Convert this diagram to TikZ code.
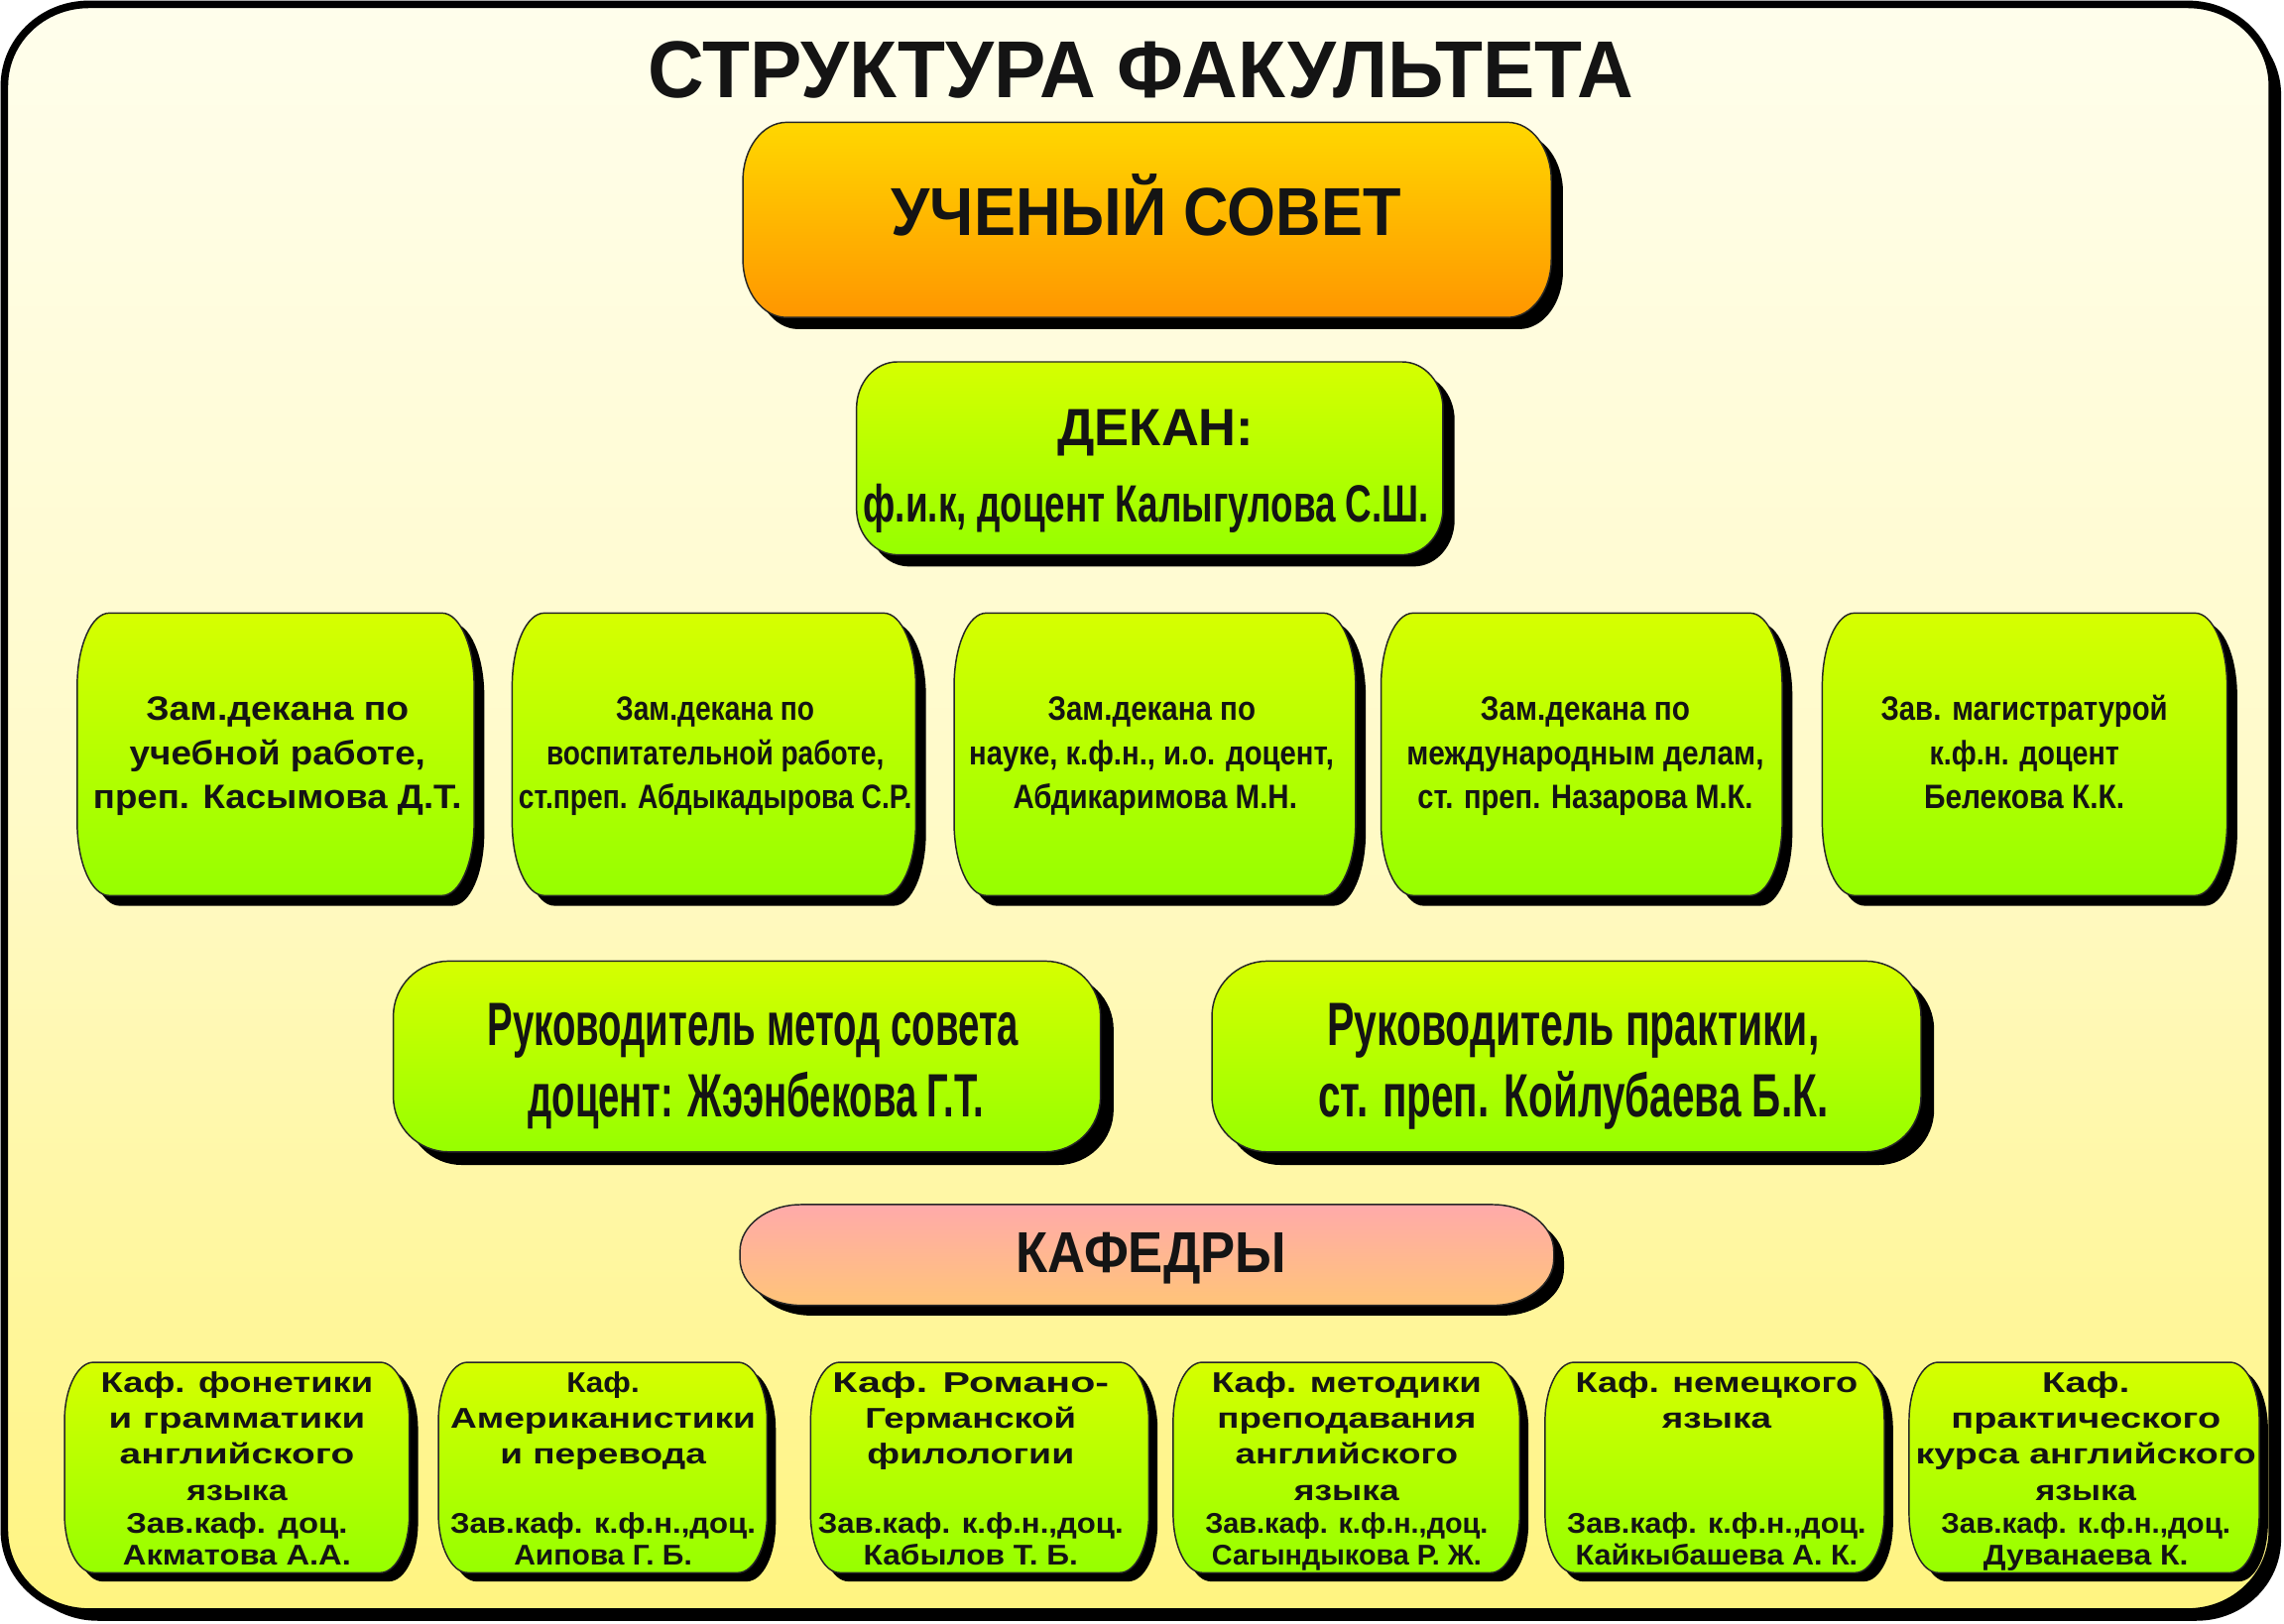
\documentclass[tikz,border=0pt]{standalone}
\usepackage{fontspec}
\setmainfont{Liberation Sans}
\usepackage{graphicx}
\newdimen\unitpx \unitpx=0.5pt
\definecolor{bgtop}{RGB}{255,254,236}
\definecolor{bgmid}{RGB}{255,250,200}
\definecolor{bgbot}{RGB}{255,244,128}
\definecolor{grtop}{RGB}{214,255,0}
\definecolor{grbot}{RGB}{150,255,0}
\definecolor{ortop}{RGB}{255,215,0}
\definecolor{orbot}{RGB}{255,150,0}
\definecolor{pktop}{RGB}{255,170,170}
\definecolor{pkbot}{RGB}{255,196,120}
\definecolor{ink}{RGB}{20,20,20}
\newcommand\boxshape[8]{%
 \fill[black, shift={(#8,#8)}] ({#2+#6},#3) -- ({#4-#6},#3) .. controls ({#4-0.448*#6},#3) and (#4,{#3+0.448*#7}) .. (#4,{#3+#7}) -- (#4,{#5-#7}) .. controls (#4,{#5-0.448*#7}) and ({#4-0.448*#6},#5) .. ({#4-#6},#5) -- ({#2+#6},#5) .. controls ({#2+0.448*#6},#5) and (#2,{#5-0.448*#7}) .. (#2,{#5-#7}) -- (#2,{#3+#7}) .. controls (#2,{#3+0.448*#7}) and ({#2+0.448*#6},#3) .. ({#2+#6},#3) -- cycle;
 \shade[#1] ({#2+#6},#3) -- ({#4-#6},#3) .. controls ({#4-0.448*#6},#3) and (#4,{#3+0.448*#7}) .. (#4,{#3+#7}) -- (#4,{#5-#7}) .. controls (#4,{#5-0.448*#7}) and ({#4-0.448*#6},#5) .. ({#4-#6},#5) -- ({#2+#6},#5) .. controls ({#2+0.448*#6},#5) and (#2,{#5-0.448*#7}) .. (#2,{#5-#7}) -- (#2,{#3+#7}) .. controls (#2,{#3+0.448*#7}) and ({#2+0.448*#6},#3) .. ({#2+#6},#3) -- cycle;}
\newcommand\txtline[6][]{\node[txt,#1] (#2) at (#3,#4) {\resizebox{#5\unitpx}{\height}{#6}};}
\begin{document}
\begin{tikzpicture}[x=0.5pt,y=-0.5pt,
  txt/.style={anchor=base,inner sep=0pt,text=ink,font=\bfseries},
  ftitle/.style={font=\fontsize{27.7}{30}\selectfont\bfseries},
  fus/.style={font=\fontsize{23.3}{26}\selectfont\bfseries},
  fdek/.style={font=\fontsize{18}{20}\selectfont\bfseries},
  frow/.style={font=\fontsize{11.6}{13}\selectfont\bfseries},
  frk/.style={font=\fontsize{21}{23}\selectfont\bfseries},
  fkaf/.style={font=\fontsize{19.8}{22}\selectfont\bfseries},
  fbot/.style={font=\fontsize{9.8}{11}\selectfont\bfseries},
  green/.style={top color=grtop,bottom color=grbot,draw=black!85,line width=0.5pt},
  orange/.style={top color=ortop,bottom color=orbot,draw=black!85,line width=0.5pt},
  pink/.style={top color=pktop,bottom color=pkbot,draw=black!85,line width=0.5pt},
  frame/.style={top color=bgtop,bottom color=bgbot,middle color=bgmid,draw=black,line width=2.6pt}]
\useasboundingbox (0,0) rectangle (1568,1115);
% frame
\boxshape{frame}{3}{3}{1560}{1107}{58}{56}{6}
% title
\txtline[ftitle]{title}{783.3}{67}{676.8}{СТРУКТУРА ФАКУЛЬТЕТА}
% council
\boxshape{orange}{510}{84}{1065}{218}{30}{40}{8}
\txtline[fus]{council}{786.8}{161.6}{350}{УЧЕНЫЙ СОВЕТ}
% dean
\boxshape{green}{588}{248.5}{990.6}{381}{28}{32}{8}
\txtline[fdek]{dean1}{793.5}{306}{134.6}{ДЕКАН:}
\txtline[fdek]{dean2}{787}{358.6}{388.4}{ф.и.к, доцент Калыгулова С.Ш.}
% deputies
\boxshape{green}{53}{421}{325.5}{615}{22}{50}{7}
\boxshape{green}{351.6}{421}{628.7}{615}{22}{50}{7}
\boxshape{green}{655}{421}{930.6}{615}{22}{50}{7}
\boxshape{green}{948.1}{421}{1223.5}{615}{22}{50}{7}
\boxshape{green}{1251}{421}{1528.9}{615}{22}{50}{7}
\txtline[frow]{d1a}{190.5}{494.5}{180.4}{Зам.декана по}
\txtline[frow]{d1b}{190.5}{525}{203}{учебной работе,}
\txtline[frow]{d1c}{190.5}{555.5}{253}{преп. Касымова Д.Т.}
\txtline[frow]{d2a}{491}{494.5}{136.1}{Зам.декана по}
\txtline[frow]{d2b}{491}{525}{231.6}{воспитательной работе,}
\txtline[frow]{d2c}{491}{555.5}{269.9}{ст.преп. Абдыкадырова С.Р.}
\txtline[frow]{d3a}{790.7}{494.5}{142.6}{Зам.декана по}
\txtline[frow]{d3b}{790.5}{525}{250.3}{науке, к.ф.н., и.о. доцент,}
\txtline[frow]{d3c}{793}{555.5}{195}{Абдикаримова М.Н.}
\txtline[frow]{d4a}{1088.3}{494.5}{143.7}{Зам.декана по}
\txtline[frow]{d4b}{1088.3}{525}{245.3}{международным делам,}
\txtline[frow]{d4c}{1088.3}{555.5}{230.3}{ст. преп. Назарова М.К.}
\txtline[frow]{d5a}{1389.7}{494.5}{196.8}{Зав. магистратурой}
\txtline[frow]{d5b}{1389.7}{525}{130.2}{к.ф.н. доцент}
\txtline[frow]{d5c}{1389.7}{555.5}{137.7}{Белекова К.К.}
% heads
\boxshape{green}{270}{660}{755.5}{791}{38}{38}{9}
\boxshape{green}{832}{660}{1318.8}{791}{38}{38}{9}
\txtline[frk]{ra1}{517}{718}{364.7}{Руководитель метод совета}
\txtline[frk]{ra2}{519}{767}{313}{доцент: Жээнбекова Г.Т.}
\txtline[frk]{rb1}{1080}{718}{338}{Руководитель практики,}
\txtline[frk]{rb2}{1080}{767}{350}{ст. преп. Койлубаева Б.К.}
% departments header
\boxshape{pink}{508}{827.2}{1066.7}{896.4}{42}{32}{7}
\txtline[fkaf]{kaf}{790.2}{873.8}{185.7}{КАФЕДРЫ}
% departments
\boxshape{green}{44.3}{935.5}{281}{1080}{20}{40}{6}
\boxshape{green}{301}{935.5}{526.6}{1080}{20}{40}{6}
\boxshape{green}{556.5}{935.5}{788.7}{1080}{20}{40}{6}
\boxshape{green}{805.4}{935.5}{1043.3}{1080}{20}{40}{6}
\boxshape{green}{1060.7}{935.5}{1293.6}{1080}{20}{40}{6}
\boxshape{green}{1310.6}{935.5}{1551}{1080}{20}{40}{6}
\txtline[fbot]{b1a}{162.7}{956}{187}{Каф. фонетики}
\txtline[fbot]{b1b}{162.7}{981}{176}{и грамматики}
\txtline[fbot]{b1c}{162.7}{1005.5}{161}{английского}
\txtline[fbot]{b1d}{162.7}{1030.5}{69}{языка}
\txtline[fbot]{b1e}{162.7}{1053}{152}{Зав.каф. доц.}
\txtline[fbot]{b1f}{162.7}{1075}{156.6}{Акматова А.А.}
\txtline[fbot]{b2a}{414}{956}{50}{Каф.}
\txtline[fbot]{b2b}{414}{981}{209.7}{Американистики}
\txtline[fbot]{b2c}{414}{1005.5}{141.3}{и перевода}
\txtline[fbot]{b2e}{414}{1053}{209.7}{Зав.каф. к.ф.н.,доц.}
\txtline[fbot]{b2f}{414}{1075}{122.3}{Аипова Г. Б.}
\txtline[fbot]{b3a}{666.4}{956}{189.7}{Каф. Романо-}
\txtline[fbot]{b3b}{666.4}{981}{144.8}{Германской}
\txtline[fbot]{b3c}{666.4}{1005.5}{142.3}{филологии}
\txtline[fbot]{b3e}{666.4}{1053}{209.7}{Зав.каф. к.ф.н.,доц.}
\txtline[fbot]{b3f}{666.4}{1075}{147.3}{Кабылов Т. Б.}
\txtline[fbot]{b4a}{924.5}{956}{185.2}{Каф. методики}
\txtline[fbot]{b4b}{924.5}{981}{177.7}{преподавания}
\txtline[fbot]{b4c}{924.5}{1005.5}{152.7}{английского}
\txtline[fbot]{b4d}{924.5}{1030.5}{72}{языка}
\txtline[fbot]{b4e}{924.5}{1053}{194.2}{Зав.каф. к.ф.н.,доц.}
\txtline[fbot]{b4f}{924.5}{1075}{185.2}{Сагындыкова Р. Ж.}
\txtline[fbot]{b5a}{1178.5}{956}{193.8}{Каф. немецкого}
\txtline[fbot]{b5b}{1178.5}{981}{75}{языка}
\txtline[fbot]{b5e}{1178.5}{1053}{205.3}{Зав.каф. к.ф.н.,доц.}
\txtline[fbot]{b5f}{1178.5}{1075}{193.8}{Кайкыбашева А. К.}
\txtline[fbot]{b6a}{1432}{956}{60}{Каф.}
\txtline[fbot]{b6b}{1432}{981}{185}{практического}
\txtline[fbot]{b6c}{1432}{1005.5}{233.7}{курса английского}
\txtline[fbot]{b6d}{1432}{1030.5}{69}{языка}
\txtline[fbot]{b6e}{1432}{1053}{198.6}{Зав.каф. к.ф.н.,доц.}
\txtline[fbot]{b6f}{1432}{1075}{140.7}{Дуванаева К.}
\end{tikzpicture}
\end{document}
